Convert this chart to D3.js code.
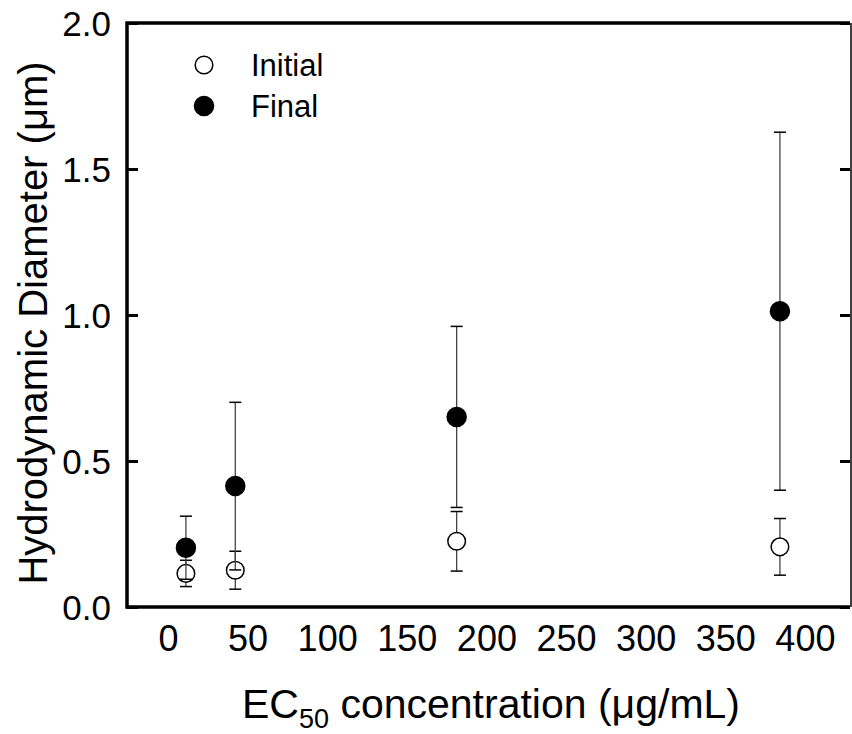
<!DOCTYPE html>
<html>
<head>
<meta charset="utf-8">
<script src="https://cdn.jsdelivr.net/npm/d3@7"></script>
<style>
  body { margin: 0; background: white; }
</style>
</head>
<body>
<div id="viz-container"></div>
<script>
// values
let concentration = [11, 42, 181, 384];
let initialMean = [0.115, 0.126, 0.225, 0.206];
let initialErr = [0.045, 0.065, 0.102, 0.097];
let finalMean = [0.203, 0.414, 0.651, 1.013];
let finalErr = [0.108, 0.287, 0.31, 0.613];
let xTicks = [0, 50, 100, 150, 200, 250, 300, 350, 400];
let yTicks = [0, 0.5, 1.0, 1.5, 2.0];

let width = 852, height = 734;
let plotLeft = 127, plotRight = 850, plotTop = 23, plotBottom = 607;

let viz = d3.select("#viz-container")
  .append("svg")
    .attr("width", width)
    .attr("height", height)
    .attr("font-family", "'Liberation Sans', Arial, Helvetica, sans-serif")
;

let x = d3.scaleLinear().domain([-26, 428]).range([plotLeft, plotRight]);
let y = d3.scaleLinear().domain([0, 2]).range([plotBottom, plotTop]);

// y axis on the left, ticks pointing in
let yAxis = viz.append("g")
  .attr("transform", "translate(" + plotLeft + ",0)")
  .call(d3.axisRight(y).tickValues(yTicks).tickSize(11).tickFormat(""));
yAxis.select(".domain").remove();
yAxis.selectAll(".tick line").attr("stroke", "black").attr("stroke-width", 3);

// same ticks on the right side
let yAxisR = viz.append("g")
  .attr("transform", "translate(" + plotRight + ",0)")
  .call(d3.axisLeft(y).tickValues(yTicks).tickSize(10).tickFormat(""));
yAxisR.select(".domain").remove();
yAxisR.selectAll(".tick line").attr("stroke", "black").attr("stroke-width", 3);

// tick labels
viz.selectAll(".ylab").data(yTicks).enter()
  .append("text")
    .attr("class", "ylab")
    .attr("x", 111)
    .attr("y", d => y(d))
    .attr("dy", "0.36em")
    .attr("text-anchor", "end")
    .attr("font-size", 35)
    .text(d3.format(".1f"))
;

viz.selectAll(".xlab").data(xTicks).enter()
  .append("text")
    .attr("class", "xlab")
    .attr("x", d => x(d))
    .attr("y", 651)
    .attr("text-anchor", "middle")
    .attr("font-size", 36)
    .text(d => d)
;

// frame: thick on left/top/bottom, thin on the right
viz.append("path")
  .attr("d", "M" + plotRight + "," + plotTop + "H" + plotLeft + "V" + plotBottom + "H" + plotRight)
  .attr("fill", "none")
  .attr("stroke", "black")
  .attr("stroke-width", 3.5)
;
viz.append("line")
  .attr("x1", plotRight + 1).attr("x2", plotRight + 1)
  .attr("y1", plotTop).attr("y2", plotBottom)
  .attr("stroke", "black")
  .attr("stroke-width", 1.5)
;

// axis titles
let xt = viz.append("text")
  .attr("x", 491)
  .attr("y", 718)
  .attr("text-anchor", "middle")
  .attr("font-size", 41)
;
xt.append("tspan").text("EC");
xt.append("tspan").attr("font-size", 27).attr("dy", 10).text("50");
xt.append("tspan").attr("dy", -10).text(" concentration (\u03bcg/mL)");

viz.append("text")
  .attr("transform", "translate(47,323) rotate(-90)")
  .attr("text-anchor", "middle")
  .attr("font-size", 40)
  .text("Hydrodynamic Diameter (\u03bcm)")
;

// error bars + markers
function drawSeries(means, errs, filled) {
  let g = viz.append("g");
  let pts = concentration.map((c, i) => ({c: c, m: means[i], e: errs[i]}));
  let groups = g.selectAll("g").data(pts).enter().append("g");
  groups.append("line")
    .attr("x1", d => x(d.c)).attr("x2", d => x(d.c))
    .attr("y1", d => y(d.m + d.e)).attr("y2", d => y(d.m - d.e))
    .attr("stroke", "#444")
    .attr("stroke-width", 1.3)
  ;
  [1, -1].forEach(s => {
    groups.append("line")
      .attr("x1", d => x(d.c) - 6).attr("x2", d => x(d.c) + 6)
      .attr("y1", d => y(d.m + s * d.e)).attr("y2", d => y(d.m + s * d.e))
      .attr("stroke", "black")
      .attr("stroke-width", 1.5)
    ;
  });
  groups.append("circle")
    .attr("cx", d => x(d.c))
    .attr("cy", d => y(d.m))
    .attr("r", filled ? 9.5 : 8.8)
    .attr("fill", filled ? "black" : "white")
    .attr("stroke", "black")
    .attr("stroke-width", 1.5)
  ;
}
drawSeries(initialMean, initialErr, false);
drawSeries(finalMean, finalErr, true);

// legend
let legendNames = ["Initial", "Final"];
let legend = viz.selectAll(".legend").data(legendNames).enter()
  .append("g")
    .attr("class", "legend")
    .attr("transform", (d, i) => "translate(204," + (65 + i * 41) + ")")
;
legend.append("circle")
  .attr("r", (d, i) => i ? 9.5 : 8.8)
  .attr("fill", (d, i) => i ? "black" : "white")
  .attr("stroke", "black")
  .attr("stroke-width", 1.5)
;
legend.append("text")
  .attr("x", 47)
  .attr("dy", "0.36em")
  .attr("font-size", 31)
  .text(d => d)
;
</script>
</body>
</html>
